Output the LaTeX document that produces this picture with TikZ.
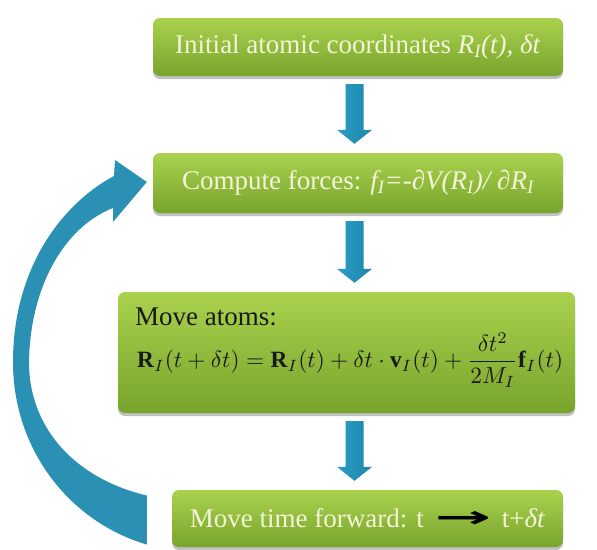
\documentclass[tikz,border=0pt]{standalone}
\usepackage{fontspec}
\setmainfont{Liberation Serif}
\newfontfamily\symfont{DejaVu Sans}
\usepackage{graphicx}
\usepackage{amsmath}
\usetikzlibrary{calc,shadows}
\definecolor{gtop}{HTML}{AAD24E}
\definecolor{gbot}{HTML}{78A42C}
\definecolor{cream}{HTML}{F4F4D8}
\definecolor{aleft}{HTML}{2A9DC5}
\definecolor{amid}{HTML}{5CCDEB}
\definecolor{aright}{HTML}{1F86AB}
\definecolor{loopblue}{HTML}{2A90B4}
\newcommand\flowdown[2]{%
  \path[flowarr] ($(ax |- #1.south)+(-9,8)$) -- ($(ax |- #1.south)+(9,8)$)
   -- ($(ax |- #2.north)+(9,-23)$) -- ($(ax |- #2.north)+(17.5,-23)$)
   -- ($(ax |- #2.north)+(0,-9)$) -- ($(ax |- #2.north)+(-17.5,-23)$)
   -- ($(ax |- #2.north)+(-9,-23)$) -- cycle;}
\begin{document}
\begin{tikzpicture}[x=1pt,y=-1pt,
  box/.style={rounded corners=7pt, top color=gtop, bottom color=gbot,
    drop shadow={shadow xshift=0pt,shadow yshift=-3pt,opacity=0.35,fill=black!70},
    inner sep=0pt, text=cream, font=\fontsize{27}{32}\selectfont},
  flowarr/.style={left color=aleft, middle color=amid, right color=aright},
  dark/.style={text=black!90, inner sep=0pt}]
\useasboundingbox[fill=white] (0,0) rectangle (597,549);
\coordinate (ax) at (354.5,0);
\node[box, minimum width=410pt, minimum height=58pt] (b1) at (358,47)
  {Initial atomic coordinates \textit{R\textsubscript{I}(t), δt}};
\node[box, minimum width=410pt, minimum height=60pt] (b2) at (358,183)
  {Compute forces: \textit{f\textsubscript{I}=-∂V(R\textsubscript{I})/ ∂R\textsubscript{I}}};
\node[box, minimum width=457pt, minimum height=121pt] (b3) at (346.5,352.5) {};
\node[box, minimum width=391pt, minimum height=57pt] (b4) at (367.5,518.5)
  {Move time forward: t\hspace{4pt} \textcolor{black}{\symfont\bfseries\scalebox{2.5}[1.1]{→}}\hspace{4pt} t+\textit{δt}};
\node[dark, anchor=base west, font=\fontsize{27}{32}\selectfont] (t3) at (135,325) {Move atoms:};
\node[dark, anchor=west] (eq) at (137,360)
  {\resizebox{426pt}{!}{$\displaystyle \mathbf{R}_I(t+\delta t)=\mathbf{R}_I(t)+\delta t\cdot\mathbf{v}_I(t)+\frac{\delta t^2}{2M_I}\mathbf{f}_I(t)$}};
\flowdown{b1}{b2}
\flowdown{b2}{b3}
\flowdown{b3}{b4}
\fill[loopblue]
  ($(b4.west)+(-25,26)$)
  .. controls (70,522) and (13,450) .. (13,362)
  .. controls (13,270) and (60,205) .. (114,176)
  -- (115,160) -- ($(b2.west)+(-6,-1)$) -- (113,222) -- (113,208)
  .. controls (62,228) and (30,290) .. (29,362)
  .. controls (29,432) and (80,480) .. ($(b4.west)+(-25,-23)$)
  -- cycle;
\end{tikzpicture}
\end{document}
